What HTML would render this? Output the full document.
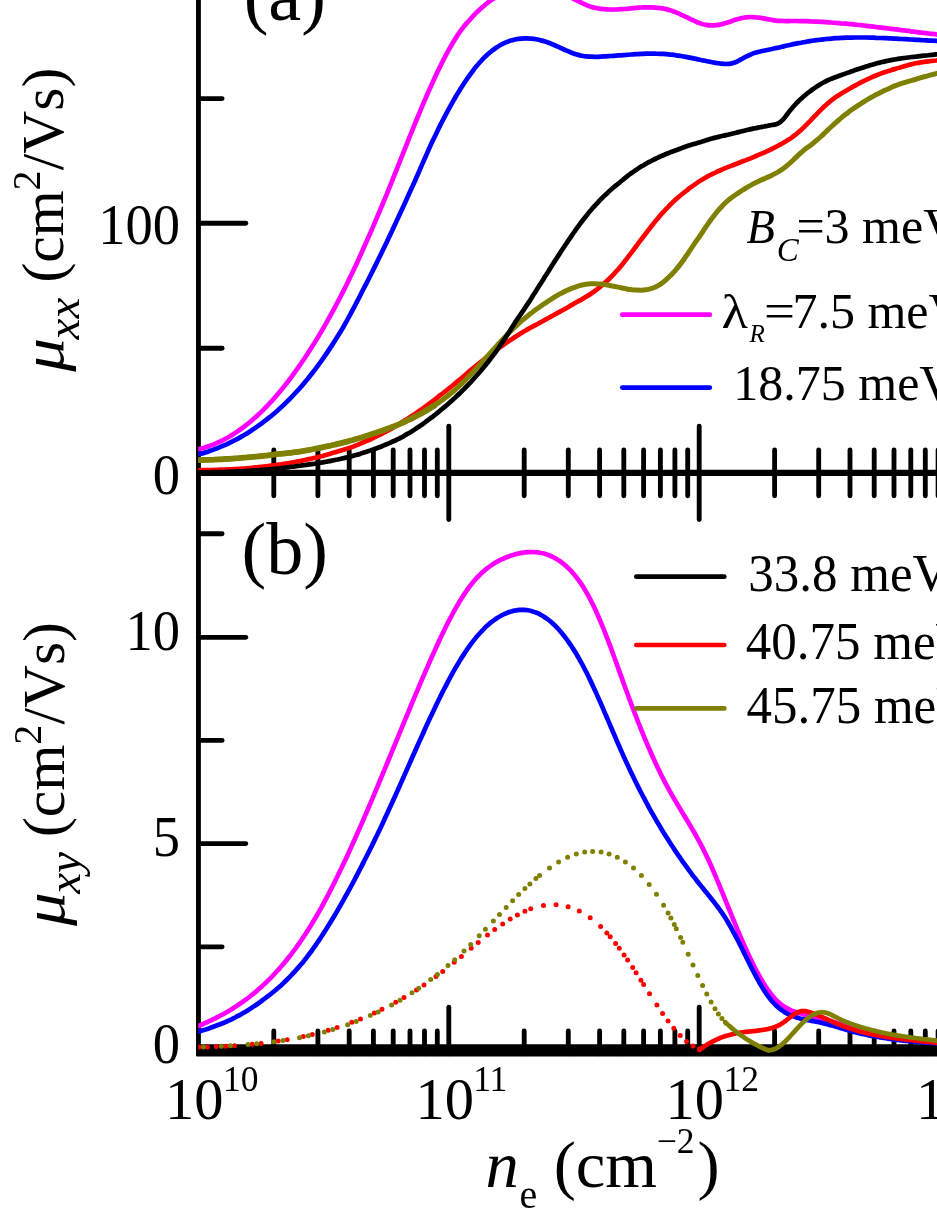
<!DOCTYPE html>
<html><head><meta charset="utf-8"><title>chart</title>
<style>html,body{margin:0;padding:0;background:#fff}body{width:937px;height:1213px;overflow:hidden}svg{display:block;will-change:transform}text{font-family:"Liberation Serif",serif;fill:#000}.i{font-style:italic}</style></head><body>
<svg width="937" height="1213" viewBox="0 0 937 1213">
<rect width="937" height="1213" fill="#fff"/>
<defs><clipPath id="cp"><rect x="198.2" y="-20" width="760" height="1100"/></clipPath></defs>
<g stroke="#000" stroke-width="4.85" stroke-linecap="round" fill="none">
<line x1="198.45" y1="-5" x2="198.45" y2="1055" stroke-linecap="butt"/>
<line x1="198.45" y1="472.85" x2="945" y2="472.85" stroke-width="6.3" stroke-linecap="butt"/>
<line x1="273.8" y1="450" x2="273.8" y2="495.8"/>
<line x1="273.8" y1="1030.9" x2="273.8" y2="1053.8"/>
<line x1="317.9" y1="450" x2="317.9" y2="495.8"/>
<line x1="317.9" y1="1030.9" x2="317.9" y2="1053.8"/>
<line x1="349.2" y1="450" x2="349.2" y2="495.8"/>
<line x1="349.2" y1="1030.9" x2="349.2" y2="1053.8"/>
<line x1="373.4" y1="450" x2="373.4" y2="495.8"/>
<line x1="373.4" y1="1030.9" x2="373.4" y2="1053.8"/>
<line x1="393.2" y1="450" x2="393.2" y2="495.8"/>
<line x1="393.2" y1="1030.9" x2="393.2" y2="1053.8"/>
<line x1="410" y1="450" x2="410" y2="495.8"/>
<line x1="410" y1="1030.9" x2="410" y2="1053.8"/>
<line x1="424.5" y1="450" x2="424.5" y2="495.8"/>
<line x1="424.5" y1="1030.9" x2="424.5" y2="1053.8"/>
<line x1="437.3" y1="450" x2="437.3" y2="495.8"/>
<line x1="437.3" y1="1030.9" x2="437.3" y2="1053.8"/>
<line x1="448.8" y1="426.2" x2="448.8" y2="519.5"/>
<line x1="448.8" y1="1007.2" x2="448.8" y2="1053.8"/>
<line x1="524.2" y1="450" x2="524.2" y2="495.8"/>
<line x1="524.2" y1="1030.9" x2="524.2" y2="1053.8"/>
<line x1="568.3" y1="450" x2="568.3" y2="495.8"/>
<line x1="568.3" y1="1030.9" x2="568.3" y2="1053.8"/>
<line x1="599.6" y1="450" x2="599.6" y2="495.8"/>
<line x1="599.6" y1="1030.9" x2="599.6" y2="1053.8"/>
<line x1="623.8" y1="450" x2="623.8" y2="495.8"/>
<line x1="623.8" y1="1030.9" x2="623.8" y2="1053.8"/>
<line x1="643.6" y1="450" x2="643.6" y2="495.8"/>
<line x1="643.6" y1="1030.9" x2="643.6" y2="1053.8"/>
<line x1="660.4" y1="450" x2="660.4" y2="495.8"/>
<line x1="660.4" y1="1030.9" x2="660.4" y2="1053.8"/>
<line x1="674.9" y1="450" x2="674.9" y2="495.8"/>
<line x1="674.9" y1="1030.9" x2="674.9" y2="1053.8"/>
<line x1="687.7" y1="450" x2="687.7" y2="495.8"/>
<line x1="687.7" y1="1030.9" x2="687.7" y2="1053.8"/>
<line x1="699.2" y1="426.2" x2="699.2" y2="519.5"/>
<line x1="699.2" y1="1007.2" x2="699.2" y2="1053.8"/>
<line x1="774.6" y1="450" x2="774.6" y2="495.8"/>
<line x1="774.6" y1="1030.9" x2="774.6" y2="1053.8"/>
<line x1="818.7" y1="450" x2="818.7" y2="495.8"/>
<line x1="818.7" y1="1030.9" x2="818.7" y2="1053.8"/>
<line x1="850" y1="450" x2="850" y2="495.8"/>
<line x1="850" y1="1030.9" x2="850" y2="1053.8"/>
<line x1="874.2" y1="450" x2="874.2" y2="495.8"/>
<line x1="874.2" y1="1030.9" x2="874.2" y2="1053.8"/>
<line x1="894" y1="450" x2="894" y2="495.8"/>
<line x1="894" y1="1030.9" x2="894" y2="1053.8"/>
<line x1="910.8" y1="450" x2="910.8" y2="495.8"/>
<line x1="910.8" y1="1030.9" x2="910.8" y2="1053.8"/>
<line x1="925.3" y1="450" x2="925.3" y2="495.8"/>
<line x1="925.3" y1="1030.9" x2="925.3" y2="1053.8"/>
<line x1="938.1" y1="450" x2="938.1" y2="495.8"/>
<line x1="938.1" y1="1030.9" x2="938.1" y2="1053.8"/>
<line x1="949.6" y1="426.2" x2="949.6" y2="519.5"/>
<line x1="949.6" y1="1007.2" x2="949.6" y2="1053.8"/>
<line x1="198.45" y1="98.6" x2="222.1" y2="98.6"/>
<line x1="198.45" y1="223.2" x2="245.8" y2="223.2"/>
<line x1="198.45" y1="348.2" x2="222.1" y2="348.2"/>
<line x1="198.45" y1="533.7" x2="222.1" y2="533.7"/>
<line x1="198.45" y1="637.3" x2="245.8" y2="637.3"/>
<line x1="198.45" y1="740.4" x2="222.1" y2="740.4"/>
<line x1="198.45" y1="843.6" x2="245.8" y2="843.6"/>
<line x1="198.45" y1="946.8" x2="222.1" y2="946.8"/>
</g>
<path d="M196 1044.3H945V1056.4H197.2Q196 1056.4 196 1055.2Z" fill="#000"/>
<g fill="none" stroke-width="4.7" stroke-linejoin="round" stroke-linecap="butt" clip-path="url(#cp)">
<path stroke="#f0f" d="M196 449.7C196.8 449.5 199.3 449 201 448.5C202.7 448.1 204.3 447.6 206 447.1C207.7 446.6 209.3 446 211 445.4C212.7 444.8 214.3 444.1 216 443.4C217.7 442.7 219.3 441.9 221 441.1C222.7 440.3 224.3 439.4 226 438.5C227.7 437.6 229.3 436.6 231 435.6C232.7 434.6 234.3 433.6 236 432.4C237.7 431.3 239.3 430.2 241 429C242.7 427.8 244.3 426.5 246 425.2C247.7 423.9 249.3 422.6 251 421.2C252.7 419.7 254.3 418.3 256 416.8C257.7 415.3 259.3 413.7 261 412.1C262.7 410.5 264.3 408.8 266 407.1C267.7 405.4 269.3 403.7 271 401.8C272.7 400 274.3 398.2 276 396.2C277.7 394.3 279.3 392.4 281 390.3C282.7 388.3 284.3 386.2 286 384.1C287.7 382 289.3 379.8 291 377.6C292.7 375.3 294.3 373 296 370.7C297.7 368.3 299.3 365.9 301 363.5C302.7 361 304.4 358.5 306.1 356C307.8 353.4 309.5 350.8 311.2 348.1C312.9 345.4 314.6 342.7 316.3 339.9C318 337.2 319.7 334.3 321.4 331.4C323.1 328.5 324.8 325.6 326.5 322.6C328.2 319.6 329.9 316.5 331.6 313.4C333.3 310.3 335 307.1 336.7 303.9C338.4 300.7 340.1 297.4 341.8 294.1C343.5 290.8 345.2 287.4 346.9 284C348.5 280.6 350.2 277.1 351.9 273.6C353.5 270.1 355.2 266.6 356.9 263C358.5 259.4 360.2 255.7 361.9 252C363.5 248.3 365.2 244.6 366.9 240.8C368.5 237.1 370.2 233.3 371.9 229.4C373.5 225.6 375.2 221.7 376.9 217.7C378.5 213.8 380.2 209.9 381.9 205.9C383.5 201.9 385.2 197.8 386.9 193.8C388.5 189.7 390.2 185.6 391.9 181.4C393.5 177.3 395.2 173.1 396.9 169C398.5 164.8 400.2 160.6 401.9 156.4C403.5 152.2 405.2 148 406.9 143.8C408.5 139.6 410.2 135.5 411.9 131.3C413.5 127.2 415.2 123 416.9 119C418.6 114.9 420.3 110.8 421.9 106.8C423.6 102.9 425.3 98.9 427 95C428.7 91.2 430.4 87.4 432.1 83.6C433.7 79.9 435.4 76.3 437.1 72.7C438.8 69.2 440.5 65.7 442.2 62.4C443.9 59 445.5 55.8 447.2 52.7C448.9 49.6 450.6 46.6 452.3 43.7C454 40.9 455.6 38.1 457.3 35.6C459 33 460.8 30.6 462.5 28.3C464.2 26 466 23.9 467.8 21.9C469.5 19.9 471.3 18.1 472.9 16.3C474.5 14.6 476 13 477.6 11.5C479.2 10 480.8 8.5 482.3 7.2C483.9 5.9 485.3 4.7 486.8 3.5C488.2 2.3 489.6 1.3 491.1 0.2C492.7 -0.8 494.4 -1.8 496 -2.7C497.6 -3.6 499.3 -4.5 501 -5.3C502.7 -6 504.3 -6.8 506 -7.5C507.7 -8.1 509.3 -8.8 511 -9.3C512.7 -9.9 514.3 -10.4 516 -10.8C517.7 -11.2 519.3 -11.6 521 -11.9C522.7 -12.2 524.3 -12.5 526 -12.7C527.7 -12.8 529.3 -13 531 -13C532.7 -13.1 534.3 -13.1 536 -13C537.7 -12.9 539.3 -12.8 541 -12.6C542.7 -12.4 544.3 -12.1 546 -11.8C547.7 -11.4 549.3 -11 551 -10.5C552.7 -10.1 554.3 -9.5 556 -8.9C557.7 -8.4 559.3 -7.7 561 -7C562.7 -6.3 564.3 -5.6 566 -4.8C567.7 -4.1 569.3 -3.3 571 -2.5C572.7 -1.6 574.3 -0.8 576 0C577.7 0.9 579.3 1.7 581 2.5C582.7 3.3 584.3 4.1 586 4.8C587.7 5.5 589.3 6.1 591 6.7C592.7 7.2 594.3 7.6 596 8C597.7 8.4 599.3 8.7 601 8.9C602.7 9.1 604.3 9.3 606 9.4C607.7 9.5 609.3 9.5 611 9.5C612.7 9.6 614.3 9.5 616 9.5C617.7 9.4 619.3 9.3 621 9.2C622.7 9.1 624.3 8.9 626 8.8C627.7 8.6 629.3 8.5 631 8.3C632.7 8.2 634.3 8 636 7.9C637.7 7.8 639.3 7.6 641 7.5C642.7 7.4 644.3 7.4 646 7.3C647.7 7.3 649.3 7.3 651 7.3C652.7 7.3 654.3 7.4 656 7.6C657.7 7.7 659.3 7.9 661 8.1C662.7 8.4 664.3 8.7 666 9.1C667.7 9.5 669.3 10 671 10.5C672.7 11.1 674.3 11.7 676 12.4C677.7 13.1 679.3 13.8 681 14.6C682.7 15.3 684.3 16.1 686 16.9C687.7 17.7 689.3 18.6 691 19.4C692.7 20.2 694.3 21 696 21.7C697.7 22.4 699.3 23.1 701 23.6C702.7 24.2 704.3 24.6 706 24.9C707.7 25.2 709.3 25.4 711 25.4C712.7 25.5 714.3 25.4 716 25.2C717.7 25.1 719.3 24.7 721 24.4C722.7 24 724.3 23.5 726 23C727.7 22.5 729.3 21.9 731 21.3C732.7 20.7 734.3 20.1 736 19.6C737.7 19.1 739.3 18.6 741 18.2C742.7 17.8 744.3 17.5 746 17.3C747.7 17.1 749.3 17 751 17C752.7 17 754.3 17.1 756 17.3C757.7 17.4 759.3 17.7 761 17.9C762.7 18.2 764.3 18.6 766 18.9C767.7 19.2 769.3 19.5 771 19.8C772.7 20.1 774.3 20.4 776 20.6C777.7 20.8 779.3 20.9 781 20.9C782.7 21 784.3 21 786 21.1C787.7 21.1 789.3 21 791 21C792.7 21 794.3 21 796 21C797.7 21 799.3 21.1 801 21.1C802.7 21.1 804.3 21.2 806 21.2C807.7 21.2 809.3 21.3 811 21.4C812.7 21.4 814.3 21.5 816 21.6C817.7 21.7 819.3 21.7 821 21.8C822.7 21.9 824.3 22 826 22.1C827.7 22.2 829.3 22.4 831 22.5C832.7 22.6 834.3 22.7 836 22.9C837.7 23 839.3 23.1 841 23.3C842.7 23.4 844.3 23.6 846 23.7C847.7 23.9 849.3 24 851 24.2C852.7 24.4 854.3 24.5 856 24.7C857.7 24.9 859.3 25.1 861 25.2C862.7 25.4 864.3 25.6 866 25.8C867.7 26 869.3 26.2 871 26.4C872.7 26.6 874.3 26.8 876 27C877.7 27.2 879.3 27.4 881 27.6C882.7 27.8 884.3 28 886 28.2C887.7 28.4 889.3 28.6 891 28.8C892.7 29 894.3 29.2 896 29.4C897.7 29.7 899.3 29.9 901 30.1C902.7 30.3 904.3 30.5 906 30.7C907.7 30.9 909.3 31.1 911 31.4C912.7 31.6 914.3 31.8 916 32C917.7 32.2 919.3 32.4 921 32.6C922.7 32.8 924.3 33 926 33.2C927.7 33.4 929.3 33.6 931 33.8C932.7 34 934.5 34.2 936 34.4C937.5 34.6 939.3 34.8 940 34.9"/>
<path stroke="#00f" d="M196 455.1C196.8 454.9 199.3 454.2 201 453.7C202.7 453.3 204.3 452.8 206 452.2C207.7 451.7 209.3 451.1 211 450.6C212.7 450 214.3 449.4 216 448.7C217.7 448.1 219.3 447.4 221 446.7C222.7 446 224.3 445.3 226 444.6C227.7 443.8 229.3 443 231 442.2C232.7 441.4 234.3 440.5 236 439.7C237.7 438.8 239.3 437.9 241 436.9C242.7 436 244.3 435 246 434C247.7 432.9 249.3 431.9 251 430.8C252.7 429.7 254.3 428.6 256 427.4C257.7 426.2 259.3 425 261 423.8C262.7 422.5 264.5 421.2 266.2 419.9C267.9 418.6 269.6 417.2 271.4 415.8C273.1 414.4 274.8 412.9 276.5 411.4C278.2 409.9 279.9 408.4 281.7 406.8C283.4 405.2 285.1 403.5 286.8 401.8C288.5 400.2 290.3 398.4 292 396.6C293.7 394.9 295.4 393 297.1 391.2C298.9 389.3 300.6 387.3 302.3 385.4C304 383.4 305.7 381.3 307.4 379.3C309.1 377.2 310.8 375 312.5 372.8C314.2 370.7 315.9 368.4 317.6 366.1C319.3 363.8 321 361.5 322.7 359C324.4 356.6 326.1 354.2 327.8 351.6C329.5 349.1 331.2 346.5 332.9 343.9C334.6 341.3 336.3 338.6 338 335.8C339.7 333.1 341.4 330.3 343.1 327.5C344.7 324.6 346.3 321.7 347.9 318.8C349.5 315.9 351.1 312.9 352.7 309.9C354.3 306.8 355.9 303.8 357.5 300.7C359.1 297.6 360.7 294.4 362.3 291.2C363.9 288.1 365.6 284.8 367.3 281.6C368.9 278.3 370.6 275 372.3 271.7C373.9 268.4 375.6 265 377.3 261.6C378.9 258.2 380.6 254.8 382.3 251.3C383.9 247.9 385.6 244.4 387.3 240.9C388.9 237.4 390.6 233.9 392.3 230.3C393.9 226.7 395.6 223.2 397.3 219.6C398.9 216 400.6 212.3 402.3 208.7C403.9 205.1 405.6 201.4 407.3 197.7C408.9 194.1 410.6 190.4 412.3 186.8C413.9 183.1 415.6 179.4 417.2 175.8C418.8 172.1 420.4 168.5 421.9 164.9C423.5 161.3 425.1 157.7 426.7 154.1C428.2 150.6 429.8 147.1 431.4 143.6C433 140.1 434.7 136.6 436.4 133.2C438 129.9 439.6 126.5 441.3 123.2C443 119.9 444.6 116.7 446.3 113.6C447.9 110.4 449.7 107.3 451.4 104.3C453.1 101.3 454.7 98.4 456.4 95.5C458.1 92.7 459.8 89.9 461.5 87.2C463.2 84.6 464.9 82 466.6 79.5C468.3 77.1 470 74.7 471.7 72.5C473.3 70.3 474.9 68.1 476.6 66.1C478.2 64.1 479.9 62.2 481.5 60.5C483.1 58.7 484.8 57.1 486.4 55.5C488 54 489.6 52.6 491.3 51.3C492.9 50 494.5 48.8 496.1 47.7C497.7 46.6 499.4 45.6 501 44.7C502.6 43.8 504.3 43.1 506 42.4C507.7 41.7 509.3 41.1 511 40.6C512.7 40.1 514.3 39.7 516 39.3C517.7 39 519.3 38.8 521 38.6C522.7 38.4 524.3 38.4 526 38.4C527.7 38.4 529.3 38.5 531 38.6C532.7 38.8 534.3 39 536 39.3C537.7 39.6 539.3 39.9 541 40.4C542.7 40.8 544.3 41.3 546 41.8C547.7 42.4 549.3 43 551 43.7C552.7 44.3 554.3 45.1 556 45.8C557.7 46.6 559.3 47.3 561 48.1C562.7 48.9 564.3 49.6 566 50.4C567.7 51.1 569.3 51.8 571 52.5C572.7 53.1 574.3 53.8 576 54.3C577.7 54.8 579.3 55.2 581 55.6C582.7 55.9 584.3 56.2 586 56.4C587.7 56.6 589.3 56.7 591 56.7C592.7 56.8 594.3 56.8 596 56.8C597.7 56.8 599.3 56.7 601 56.6C602.7 56.5 604.3 56.4 606 56.3C607.7 56.2 609.3 56.1 611 56C612.7 55.9 614.3 55.8 616 55.6C617.7 55.5 619.3 55.4 621 55.3C622.7 55.1 624.3 55 626 54.9C627.7 54.7 629.3 54.6 631 54.5C632.7 54.4 634.3 54.3 636 54.2C637.7 54.1 639.3 54 641 53.9C642.7 53.8 644.3 53.8 646 53.7C647.7 53.7 649.3 53.6 651 53.6C652.7 53.6 654.3 53.6 656 53.7C657.7 53.7 659.3 53.7 661 53.8C662.7 53.9 664.3 54 666 54.1C667.7 54.3 669.3 54.4 671 54.6C672.7 54.8 674.3 55 676 55.3C677.7 55.5 679.3 55.8 681 56C682.7 56.3 684.3 56.6 686 56.9C687.7 57.3 689.3 57.6 691 57.9C692.7 58.3 694.3 58.6 696 58.9C697.7 59.3 699.3 59.6 701 60C702.7 60.3 704.3 60.7 706 61C707.7 61.3 709.3 61.7 711 62C712.7 62.3 714.3 62.6 716 62.9C717.7 63.1 719.3 63.4 721 63.6C722.7 63.8 724.3 64 726 64C727.7 64 729.3 63.9 731 63.6C732.7 63.3 734.3 62.7 736 62C737.7 61.3 739.3 60.3 741 59.4C742.7 58.5 744.3 57.4 746 56.6C747.7 55.7 749.3 55 751 54.3C752.7 53.6 754.3 53.1 756 52.6C757.7 52.1 759.3 51.7 761 51.3C762.7 50.9 764.3 50.6 766 50.2C767.7 49.9 769.3 49.6 771 49.2C772.7 48.9 774.3 48.5 776 48.1C777.7 47.8 779.3 47.4 781 47C782.7 46.6 784.3 46.2 786 45.8C787.7 45.4 789.3 45.1 791 44.7C792.7 44.3 794.3 44 796 43.6C797.7 43.3 799.3 43 801 42.7C802.7 42.3 804.3 42 806 41.8C807.7 41.5 809.3 41.2 811 40.9C812.7 40.7 814.3 40.4 816 40.2C817.7 40 819.3 39.7 821 39.6C822.7 39.4 824.3 39.2 826 39C827.7 38.8 829.3 38.7 831 38.6C832.7 38.4 834.3 38.3 836 38.2C837.7 38.1 839.3 38 841 37.9C842.7 37.8 844.3 37.8 846 37.7C847.7 37.6 849.3 37.6 851 37.6C852.7 37.5 854.3 37.5 856 37.5C857.7 37.5 859.3 37.5 861 37.5C862.7 37.5 864.3 37.5 866 37.5C867.7 37.6 869.3 37.6 871 37.6C872.7 37.7 874.3 37.7 876 37.8C877.7 37.8 879.3 37.9 881 38C882.7 38 884.3 38.1 886 38.2C887.7 38.3 889.3 38.3 891 38.4C892.7 38.5 894.3 38.6 896 38.7C897.7 38.8 899.3 38.9 901 39C902.7 39 904.3 39.1 906 39.2C907.7 39.3 909.3 39.4 911 39.5C912.7 39.6 914.3 39.7 916 39.8C917.7 39.9 919.3 40 921 40.1C922.7 40.2 924.3 40.3 926 40.4C927.7 40.5 929.3 40.6 931 40.6C932.7 40.7 934.5 40.8 936 40.9C937.5 40.9 939.3 41 940 41"/>
<path stroke="#f00" d="M196 470.3C196.8 470.3 199.3 470.3 201 470.2C202.7 470.2 204.3 470.2 206 470.2C207.7 470.1 209.3 470.1 211 470C212.7 470 214.3 470 216 469.9C217.7 469.9 219.3 469.8 221 469.7C222.7 469.7 224.3 469.6 226 469.5C227.7 469.4 229.3 469.4 231 469.3C232.7 469.2 234.3 469.1 236 469C237.7 468.9 239.3 468.8 241 468.7C242.7 468.5 244.3 468.4 246 468.3C247.7 468.2 249.3 468 251 467.9C252.7 467.7 254.3 467.6 256 467.4C257.7 467.2 259.3 467.1 261 466.9C262.7 466.7 264.3 466.5 266 466.3C267.7 466.1 269.3 465.9 271 465.7C272.7 465.5 274.3 465.2 276 465C277.7 464.8 279.3 464.5 281 464.3C282.7 464.1 284.3 463.8 286 463.5C287.7 463.3 289.3 463 291 462.7C292.7 462.4 294.3 462.1 296 461.8C297.7 461.5 299.3 461.2 301 460.9C302.7 460.5 304.3 460.2 306 459.8C307.7 459.5 309.3 459.1 311 458.7C312.7 458.4 314.3 458 316 457.6C317.7 457.2 319.3 456.7 321 456.3C322.7 455.9 324.3 455.4 326 455C327.7 454.5 329.3 454 331 453.5C332.7 453.1 334.3 452.5 336 452C337.7 451.5 339.3 451.1 341 450.6C342.7 450.1 344.3 449.6 346 449C347.7 448.5 349.3 448 351 447.4C352.7 446.8 354.3 446.1 356 445.4C357.7 444.8 359.3 444.1 361 443.4C362.7 442.7 364.3 442 366 441.2C367.7 440.5 369.3 439.8 371 439C372.7 438.2 374.3 437.5 376 436.7C377.7 435.9 379.3 435.1 381 434.2C382.7 433.4 384.3 432.5 386 431.6C387.7 430.7 389.3 429.7 391 428.8C392.7 427.9 394.3 426.9 396 425.9C397.7 424.9 399.3 423.9 401 422.9C402.7 421.9 404.3 420.9 406 419.8C407.7 418.7 409.3 417.7 411 416.6C412.7 415.5 414.3 414.4 416 413.2C417.7 412.1 419.3 410.9 421 409.7C422.7 408.6 424.3 407.3 426 406.1C427.7 404.9 429.3 403.7 431 402.4C432.7 401.2 434.3 399.9 436 398.6C437.7 397.3 439.3 396 441 394.7C442.7 393.4 444.3 392.1 446 390.8C447.7 389.5 449.3 388.1 451 386.8C452.7 385.4 454.3 384 456 382.6C457.7 381.3 459.3 379.9 461 378.5C462.7 377 464.3 375.6 466 374.2C467.7 372.8 469.3 371.3 471 369.9C472.7 368.5 474.3 367.1 476 365.7C477.7 364.4 479.3 363.1 481 361.7C482.7 360.4 484.3 359.1 486 357.8C487.7 356.5 489.3 355.2 491 353.9C492.7 352.6 494.3 351.4 496 350.1C497.7 348.9 499.3 347.7 501 346.5C502.7 345.3 504.3 344.2 506 343C507.7 341.9 509.3 340.7 511 339.6C512.7 338.5 514.3 337.4 516 336.4C517.7 335.3 519.3 334.3 521 333.3C522.7 332.3 524.3 331.3 526 330.3C527.7 329.4 529.3 328.4 531 327.5C532.7 326.6 534.3 325.7 536 324.8C537.7 323.9 539.3 323 541 322.1C542.7 321.2 544.3 320.3 546 319.4C547.7 318.5 549.3 317.5 551 316.6C552.7 315.7 554.3 314.8 556 313.9C557.7 312.9 559.3 312 561 311.1C562.7 310.2 564.3 309.2 566 308.3C567.7 307.4 569.3 306.4 571 305.4C572.7 304.5 574.3 303.4 576 302.5C577.7 301.6 579.3 300.7 581 299.8C582.7 298.8 584.3 297.9 586 296.8C587.7 295.8 589.3 294.8 591 293.7C592.7 292.5 594.3 291.4 596 290.1C597.7 288.8 599.3 287.5 601 286.1C602.7 284.8 604.3 283.3 606 281.8C607.7 280.3 609.3 278.7 611 277C612.7 275.3 614.3 273.5 616 271.7C617.7 269.9 619.3 268 621 266C622.7 264 624.3 261.8 626 259.7C627.7 257.5 629.3 255.3 631 253.1C632.7 250.9 634.3 248.7 636 246.5C637.7 244.3 639.3 242 641 239.8C642.7 237.6 644.3 235.4 646 233.2C647.7 231 649.3 228.8 651 226.7C652.7 224.6 654.3 222.5 656 220.5C657.7 218.5 659.3 216.5 661 214.6C662.7 212.7 664.3 210.9 666 209.1C667.7 207.4 669.3 205.7 671 204C672.7 202.4 674.3 200.8 676 199.3C677.7 197.8 679.3 196.3 681 195C682.7 193.6 684.3 192.3 686 191C687.7 189.7 689.3 188.4 691 187.2C692.7 185.9 694.3 184.7 696 183.6C697.7 182.4 699.3 181.3 701 180.3C702.7 179.3 704.3 178.3 706 177.4C707.7 176.4 709.3 175.5 711 174.7C712.7 173.8 714.3 173 716 172.3C717.7 171.5 719.3 170.7 721 170C722.7 169.3 724.3 168.6 726 167.9C727.7 167.2 729.3 166.6 731 165.9C732.7 165.2 734.3 164.6 736 164C737.7 163.3 739.3 162.7 741 162C742.7 161.4 744.3 160.7 746 160.1C747.7 159.4 749.3 158.8 751 158.1C752.7 157.4 754.3 156.7 756 156C757.7 155.3 759.3 154.6 761 153.9C762.7 153.2 764.3 152.5 766 151.8C767.7 151 769.3 150.3 771 149.4C772.7 148.6 774.3 147.7 776 146.9C777.7 146 779.3 145 781 144.1C782.7 143.2 784.3 142.3 786 141.3C787.7 140.3 789.3 139.2 791 138.1C792.7 136.9 794.3 135.7 796 134.3C797.7 133 799.3 131.6 801 130.1C802.7 128.5 804.3 126.9 806 125.2C807.7 123.6 809.3 121.8 811 120.1C812.7 118.4 814.3 116.5 816 114.8C817.7 113 819.3 111.3 821 109.6C822.7 108 824.3 106.4 826 104.9C827.7 103.4 829.3 102 831 100.6C832.7 99.3 834.3 98.1 836 96.9C837.7 95.8 839.3 94.7 841 93.7C842.7 92.7 844.3 91.8 846 90.8C847.7 89.8 849.3 88.8 851 87.9C852.7 86.9 854.3 86 856 85.1C857.7 84.2 859.3 83.3 861 82.4C862.7 81.6 864.3 80.8 866 80C867.7 79.2 869.3 78.4 871 77.7C872.7 76.9 874.3 76.2 876 75.5C877.7 74.8 879.3 74.1 881 73.5C882.7 72.9 884.3 72.3 886 71.8C887.7 71.2 889.3 70.7 891 70.2C892.7 69.6 894.3 69.2 896 68.7C897.7 68.2 899.3 67.6 901 67.2C902.7 66.7 904.3 66.2 906 65.7C907.7 65.3 909.3 64.8 911 64.4C912.7 64 914.3 63.6 916 63.3C917.7 63 919.3 62.7 921 62.4C922.7 62.1 924.3 61.8 926 61.6C927.7 61.4 929.3 61.2 931 61C932.7 60.8 934.5 60.6 936 60.5C937.5 60.3 939.3 60.3 940 60.2"/>
<path stroke="#808000" stroke-width="5" d="M196 460.1C196.8 460.1 199.3 460 201 460C202.7 459.9 204.3 459.9 206 459.8C207.7 459.8 209.3 459.7 211 459.7C212.7 459.6 214.3 459.5 216 459.5C217.7 459.4 219.3 459.3 221 459.2C222.7 459.2 224.3 459.1 226 459C227.7 458.9 229.3 458.8 231 458.7C232.7 458.6 234.3 458.5 236 458.3C237.7 458.2 239.3 458.1 241 458C242.7 457.8 244.3 457.7 246 457.6C247.7 457.4 249.3 457.3 251 457.1C252.7 456.9 254.3 456.8 256 456.6C257.7 456.4 259.3 456.3 261 456.1C262.7 455.9 264.3 455.7 266 455.5C267.7 455.3 269.3 455.1 271 454.9C272.7 454.7 274.3 454.5 276 454.3C277.7 454.1 279.3 454 281 453.8C282.7 453.6 284.3 453.5 286 453.3C287.7 453.1 289.3 452.9 291 452.7C292.7 452.5 294.3 452.3 296 452.1C297.7 451.9 299.3 451.6 301 451.4C302.7 451.1 304.3 450.8 306 450.5C307.7 450.2 309.3 449.9 311 449.6C312.7 449.3 314.3 449 316 448.7C317.7 448.3 319.3 448 321 447.7C322.7 447.3 324.3 447 326 446.6C327.7 446.2 329.3 445.9 331 445.5C332.7 445.1 334.3 444.7 336 444.3C337.7 443.9 339.3 443.5 341 443.1C342.7 442.7 344.3 442.3 346 441.9C347.7 441.4 349.3 441 351 440.5C352.7 440.1 354.3 439.6 356 439.1C357.7 438.6 359.3 438.1 361 437.6C362.7 437.1 364.3 436.6 366 436C367.7 435.5 369.3 435 371 434.4C372.7 433.9 374.3 433.3 376 432.8C377.7 432.2 379.3 431.6 381 431C382.7 430.4 384.3 429.8 386 429.2C387.7 428.6 389.3 428 391 427.4C392.7 426.8 394.3 426.1 396 425.5C397.7 424.8 399.3 424.2 401 423.5C402.7 422.7 404.3 422 406 421.2C407.7 420.4 409.3 419.6 411 418.8C412.7 418 414.3 417.1 416 416.3C417.7 415.4 419.3 414.5 421 413.6C422.7 412.7 424.3 411.7 426 410.8C427.7 409.8 429.3 408.8 431 407.7C432.7 406.7 434.3 405.6 436 404.5C437.7 403.3 439.3 402.2 441 401C442.7 399.8 444.3 398.6 446 397.3C447.7 396 449.3 394.7 451 393.3C452.7 392 454.3 390.5 456 389C457.7 387.5 459.3 386 461 384.4C462.7 382.8 464.3 381.1 466 379.4C467.7 377.7 469.3 375.9 471 374.2C472.7 372.4 474.3 370.6 476 368.8C477.7 367 479.3 365.2 481 363.3C482.7 361.5 484.3 359.6 486 357.8C487.7 355.9 489.3 354.1 491 352.2C492.7 350.3 494.3 348.5 496 346.7C497.7 344.8 499.3 343 501 341.2C502.7 339.4 504.3 337.6 506 335.9C507.7 334.1 509.3 332.5 511 330.8C512.7 329.2 514.3 327.6 516 326.1C517.7 324.5 519.3 323 521 321.5C522.7 320 524.3 318.6 526 317.2C527.7 315.9 529.3 314.6 531 313.3C532.7 312 534.3 310.7 536 309.5C537.7 308.3 539.3 307.2 541 306C542.7 304.9 544.3 303.7 546 302.6C547.7 301.4 549.3 300.3 551 299.3C552.7 298.2 554.3 297.2 556 296.2C557.7 295.2 559.3 294.3 561 293.4C562.7 292.5 564.3 291.6 566 290.9C567.7 290.1 569.3 289.3 571 288.6C572.7 288 574.3 287.3 576 286.8C577.7 286.2 579.3 285.7 581 285.3C582.7 284.9 584.3 284.6 586 284.3C587.7 284 589.3 283.9 591 283.8C592.7 283.7 594.3 283.6 596 283.7C597.7 283.7 599.3 283.9 601 284C602.7 284.2 604.3 284.5 606 284.7C607.7 285 609.3 285.3 611 285.7C612.7 286 614.3 286.4 616 286.7C617.7 287.1 619.3 287.5 621 287.8C622.7 288.2 624.3 288.5 626 288.8C627.7 289.1 629.3 289.4 631 289.6C632.7 289.8 634.3 290 636 290.1C637.7 290.2 639.3 290.2 641 290.2C642.7 290.1 644.3 290 646 289.7C647.7 289.5 649.3 289.1 651 288.6C652.7 288.1 654.3 287.5 656 286.7C657.7 285.9 659.3 284.9 661 283.8C662.7 282.7 664.3 281.3 666 279.8C667.7 278.4 669.3 276.8 671 275.1C672.7 273.5 674.3 271.7 676 269.7C677.7 267.7 679.3 265.6 681 263.4C682.7 261.1 684.3 258.7 686 256.3C687.7 253.9 689.3 251.3 691 248.9C692.7 246.4 694.3 243.9 696 241.4C697.7 239 699.3 236.6 701 234.2C702.7 231.7 704.3 229.1 706 226.7C707.7 224.2 709.3 221.8 711 219.6C712.7 217.3 714.3 215.1 716 213.1C717.7 211 719.3 209.1 721 207.3C722.7 205.5 724.3 203.7 726 202.2C727.7 200.6 729.3 199.3 731 198C732.7 196.8 734.3 195.6 736 194.5C737.7 193.3 739.3 192.3 741 191.2C742.7 190.1 744.3 189 746 188C747.7 187 749.3 186 751 185.1C752.7 184.2 754.3 183.3 756 182.5C757.7 181.6 759.3 180.9 761 180.1C762.7 179.4 764.3 178.7 766 177.9C767.7 177.2 769.3 176.5 771 175.7C772.7 174.8 774.3 174 776 173.1C777.7 172.2 779.3 171.2 781 170.1C782.7 169 784.3 167.9 786 166.5C787.7 165.2 789.3 163.7 791 162.2C792.7 160.7 794.3 159 796 157.4C797.7 155.8 799.3 154.2 801 152.7C802.7 151.3 804.3 149.9 806 148.6C807.7 147.3 809.3 146.2 811 144.9C812.7 143.6 814.3 142.2 816 140.8C817.7 139.4 819.3 138 821 136.5C822.7 135 824.3 133.3 826 131.7C827.7 130.1 829.3 128.5 831 127C832.7 125.4 834.3 123.9 836 122.4C837.7 121 839.3 119.5 841 118.1C842.7 116.7 844.3 115.4 846 114.1C847.7 112.8 849.3 111.5 851 110.3C852.7 109.1 854.3 107.9 856 106.8C857.7 105.7 859.3 104.6 861 103.6C862.7 102.5 864.3 101.4 866 100.4C867.7 99.4 869.3 98.5 871 97.5C872.7 96.6 874.3 95.7 876 94.8C877.7 94 879.3 93.2 881 92.3C882.7 91.5 884.3 90.6 886 89.8C887.7 89.1 889.3 88.3 891 87.6C892.7 86.8 894.3 86.1 896 85.4C897.7 84.8 899.3 84.2 901 83.7C902.7 83.1 904.3 82.6 906 82.1C907.7 81.6 909.3 81.1 911 80.6C912.7 80.1 914.3 79.6 916 79.2C917.7 78.7 919.3 78.2 921 77.7C922.7 77.2 924.3 76.7 926 76.3C927.7 75.8 929.3 75.4 931 74.9C932.7 74.5 934.5 74 936 73.6C937.5 73.3 939.3 72.9 940 72.8"/>
<path stroke="#808000" stroke-width="5.8" d="M196 460.1C197 460.1 200 460 202 460C204 459.9 206 459.8 208 459.8C210 459.7 212 459.6 214 459.6C216 459.5 218 459.4 220 459.3C222 459.2 224 459.1 226 459C228 458.9 230 458.7 232 458.6C234 458.5 236 458.3 238 458.2C240 458 242 457.9 244 457.7C246 457.5 248 457.4 250 457.2C252 457 254 456.8 256 456.6C258 456.4 260 456.2 262 456C264 455.8 266 455.5 268 455.3C270 455 272 454.8 274 454.5C276 454.3 278 454.1 280 453.9C282 453.7 284 453.5 286 453.3C288 453.1 290 452.8 292 452.6C294 452.3 296 452.1 298 451.8C300 451.5 302 451.2 304 450.9C306 450.5 308 450.2 310 449.8C312 449.4 314 449.1 316 448.7C318 448.3 320 447.9 322 447.4C324 447 326 446.6 328 446.2C330 445.7 332 445.3 334 444.8C336 444.3 338 443.9 340 443.4C342 442.9 344 442.4 346 441.9C348 441.4 350 440.8 352 440.3C354 439.7 356 439.1 358 438.5C360 437.9 362 437.3 364 436.7C366 436.1 368 435.4 370 434.8C372 434.1 374 433.4 376 432.8C378 432.1 380 431.4 382 430.7C384 430 386 429.3 388 428.5C390 427.8 392 427 394 426.3C396 425.5 398 424.8 400 423.9C402 423.1 404 422.1 406 421.2C408 420.2 410 419.3 412 418.3C414 417.3 416 416.3 418 415.2C420 414.2 422 413.1 424 411.9C426 410.8 428 409.6 430 408.3C432 407.1 435 405.1 436 404.5"/>
<path stroke="#000" d="M196 472.3C196.7 472.3 198.7 472.3 200 472.3C201.3 472.3 202.7 472.3 204 472.3C205.3 472.3 206.7 472.3 208 472.3C209.3 472.3 210.7 472.2 212 472.2C213.3 472.2 214.7 472.2 216 472.1C217.3 472.1 218.7 472.1 220 472.1C221.3 472 222.7 472 224 472C225.3 471.9 226.7 471.9 228 471.8C229.3 471.8 230.7 471.8 232 471.7C233.3 471.7 234.7 471.6 236 471.5C237.3 471.5 238.7 471.4 240 471.4C241.3 471.3 242.7 471.2 244 471.2C245.3 471.1 246.7 471 248 470.9C249.3 470.9 250.7 470.8 252 470.7C253.3 470.6 254.7 470.5 256 470.4C257.3 470.3 258.7 470.2 260 470.1C261.3 470 262.7 469.9 264 469.8C265.3 469.7 266.7 469.6 268 469.5C269.3 469.3 270.7 469.2 272 469.1C273.3 469 274.7 468.8 276 468.7C277.3 468.6 278.7 468.4 280 468.3C281.3 468.1 282.7 468 284 467.8C285.3 467.7 286.7 467.5 288 467.3C289.3 467.2 290.7 467 292 466.8C293.3 466.6 294.7 466.5 296 466.3C297.3 466.1 298.7 465.9 300 465.7C301.3 465.5 302.7 465.4 304 465.2C305.3 465 306.7 464.8 308 464.6C309.3 464.5 310.7 464.3 312 464.1C313.3 463.9 314.7 463.7 316 463.5C317.3 463.2 318.7 463 320 462.8C321.3 462.6 322.7 462.4 324 462.1C325.3 461.9 326.7 461.6 328 461.4C329.3 461.2 330.7 460.9 332 460.6C333.3 460.4 334.7 460.1 336 459.8C337.3 459.6 338.7 459.3 340 459C341.3 458.7 342.7 458.4 344 458.1C345.3 457.8 346.7 457.5 348 457.2C349.3 456.9 350.7 456.5 352 456.2C353.3 455.8 354.7 455.4 356 455C357.3 454.7 358.7 454.3 360 453.9C361.3 453.4 362.7 453 364 452.6C365.3 452.2 366.7 451.8 368 451.3C369.3 450.9 370.7 450.4 372 449.9C373.3 449.5 374.7 449 376 448.5C377.3 448 378.7 447.5 380 447C381.3 446.5 382.7 445.9 384 445.4C385.3 444.8 386.7 444.3 388 443.7C389.3 443.1 390.7 442.6 392 441.9C393.3 441.3 394.7 440.7 396 440.1C397.3 439.4 398.7 438.8 400 438.1C401.3 437.4 402.7 436.7 404 435.9C405.3 435.2 406.7 434.4 408 433.6C409.3 432.8 410.7 432 412 431.2C413.3 430.4 414.7 429.5 416 428.6C417.3 427.8 418.7 426.9 420 426C421.3 425 422.7 424.1 424 423.2C425.3 422.2 426.7 421.2 428 420.2C429.3 419.2 430.7 418.2 432 417.2C433.3 416.1 434.7 415.1 436 414C437.3 412.9 438.7 411.8 440 410.7C441.3 409.6 442.7 408.5 444 407.4C445.3 406.3 446.7 405.2 448 404C449.3 402.9 450.7 401.7 452 400.5C453.3 399.3 454.7 398.1 456 396.8C457.3 395.6 458.7 394.3 460 393C461.3 391.7 462.7 390.4 464 389.1C465.3 387.7 466.7 386.3 468 385C469.3 383.6 470.7 382.2 472 380.7C473.3 379.3 474.7 377.8 476 376.3C477.3 374.8 478.7 373.2 480 371.7C481.3 370.1 482.7 368.5 484 366.9C485.3 365.3 486.7 363.6 488 362C489.3 360.3 490.7 358.6 492 356.9C493.3 355.2 494.7 353.4 496 351.6C497.3 349.7 498.7 347.8 500 345.8C501.3 343.9 502.7 341.9 504 339.9C505.3 337.9 506.7 335.9 508 333.8C509.3 331.7 510.7 329.6 512 327.5C513.3 325.4 514.7 323.1 516 321C517.3 319 518.7 317.2 520 315.3C521.3 313.3 522.7 311.4 524 309.4C525.3 307.4 526.7 305.4 528 303.4C529.3 301.4 530.7 299.3 532 297.2C533.3 295.1 534.7 293 536 290.9C537.3 288.8 538.7 286.7 540 284.6C541.3 282.5 542.7 280.4 544 278.2C545.3 276.1 546.7 274 548 271.9C549.3 269.8 550.7 267.6 552 265.5C553.3 263.4 554.7 261.3 556 259.3C557.3 257.2 558.7 255.1 560 253.1C561.3 251 562.7 249 564 247C565.3 245 566.7 243 568 241C569.3 239 570.7 237.1 572 235.1C573.3 233.2 574.7 231.3 576 229.4C577.3 227.6 578.7 225.7 580 223.9C581.3 222.1 582.7 220.4 584 218.7C585.3 217 586.7 215.3 588 213.7C589.3 212 590.7 210.5 592 208.9C593.3 207.4 594.7 205.9 596 204.4C597.3 203 598.7 201.6 600 200.2C601.3 198.8 602.7 197.5 604 196.2C605.3 194.9 606.7 193.6 608 192.4C609.3 191.1 610.7 189.9 612 188.8C613.3 187.6 614.7 186.5 616 185.4C617.3 184.3 618.7 183.3 620 182.2C621.3 181.1 622.7 180 624 178.9C625.3 177.8 626.7 176.7 628 175.7C629.3 174.7 630.7 173.7 632 172.7C633.3 171.8 634.7 170.9 636 170C637.3 169.1 638.7 168.2 640 167.3C641.3 166.5 642.7 165.7 644 164.9C645.3 164.1 646.7 163.4 648 162.6C649.3 161.9 650.7 161.2 652 160.5C653.3 159.8 654.7 159.1 656 158.5C657.3 157.9 658.7 157.3 660 156.7C661.3 156.1 662.7 155.5 664 155C665.3 154.4 666.7 153.8 668 153.3C669.3 152.8 670.7 152.3 672 151.7C673.3 151.2 674.7 150.7 676 150.2C677.3 149.7 678.7 149.2 680 148.7C681.3 148.3 682.7 147.8 684 147.3C685.3 146.8 686.7 146.3 688 145.8C689.3 145.4 690.7 145 692 144.6C693.3 144.2 694.7 143.8 696 143.4C697.3 143 698.7 142.6 700 142.2C701.3 141.7 702.7 141.3 704 140.9C705.3 140.5 706.7 140.1 708 139.7C709.3 139.3 710.7 138.9 712 138.5C713.3 138.1 714.7 137.8 716 137.5C717.3 137.2 718.7 136.9 720 136.5C721.3 136.2 722.7 135.9 724 135.6C725.3 135.3 726.7 135 728 134.7C729.3 134.4 730.7 134 732 133.7C733.3 133.4 734.7 133 736 132.7C737.3 132.3 738.7 132 740 131.7C741.3 131.4 742.7 131 744 130.7C745.3 130.4 746.7 130.1 748 129.8C749.3 129.5 750.7 129.2 752 128.9C753.3 128.6 754.7 128.3 756 128.1C757.3 127.8 758.7 127.5 760 127.2C761.3 127 762.7 126.7 764 126.5C765.3 126.2 766.7 126 768 125.7C769.3 125.5 770.7 125.3 772 125C773.3 124.8 774.7 124.7 776 124.2C777.3 123.8 778.7 123.3 780 122.3C781.3 121.4 782.7 120 784 118.5C785.3 117 786.7 114.9 788 113.2C789.3 111.4 790.7 109.7 792 108.2C793.3 106.6 794.7 105.2 796 103.7C797.3 102.3 798.7 101 800 99.7C801.3 98.5 802.7 97.3 804 96.1C805.3 95 806.7 93.9 808 92.8C809.3 91.8 810.7 90.8 812 89.8C813.3 88.9 814.7 88 816 87.1C817.3 86.2 818.7 85.4 820 84.6C821.3 83.8 822.7 83 824 82.3C825.3 81.5 826.7 80.8 828 80.1C829.3 79.5 830.7 79 832 78.5C833.3 78 834.7 77.5 836 77C837.3 76.5 838.7 76 840 75.5C841.3 75 842.7 74.6 844 74.1C845.3 73.6 846.7 73.1 848 72.6C849.3 72.1 850.7 71.7 852 71.2C853.3 70.7 854.7 70.3 856 69.8C857.3 69.4 858.7 69 860 68.5C861.3 68.1 862.7 67.7 864 67.2C865.3 66.8 866.7 66.4 868 66C869.3 65.5 870.7 65.1 872 64.8C873.3 64.4 874.7 64 876 63.6C877.3 63.3 878.7 62.9 880 62.6C881.3 62.3 882.7 61.9 884 61.6C885.3 61.3 886.7 61 888 60.7C889.3 60.5 890.7 60.2 892 59.9C893.3 59.7 894.7 59.5 896 59.2C897.3 59 898.7 58.8 900 58.6C901.3 58.4 902.7 58.2 904 58C905.3 57.8 906.7 57.7 908 57.5C909.3 57.3 910.7 57.2 912 57C913.3 56.9 914.7 56.7 916 56.6C917.3 56.4 918.7 56.3 920 56.1C921.3 56 922.7 55.8 924 55.7C925.3 55.6 926.7 55.4 928 55.3C929.3 55.1 930.7 55 932 54.9C933.3 54.7 934.7 54.6 936 54.4C937.3 54.3 939.3 54.1 940 54"/>
<path stroke="#f0f" d="M196 1027C196.7 1026.7 198.7 1025.9 200 1025.3C201.3 1024.7 202.7 1024.2 204 1023.6C205.3 1023 206.7 1022.4 208 1021.8C209.3 1021.1 210.7 1020.5 212 1019.9C213.3 1019.2 214.7 1018.6 216 1017.9C217.3 1017.2 218.7 1016.5 220 1015.8C221.3 1015.1 222.7 1014.4 224 1013.7C225.3 1012.9 226.7 1012.2 228 1011.4C229.3 1010.6 230.7 1009.8 232 1009C233.3 1008.1 234.7 1007.3 236 1006.4C237.3 1005.6 238.7 1004.7 240 1003.8C241.3 1002.8 242.7 1001.9 244 1000.9C245.3 1000 246.7 999 248 998C249.3 997 250.7 995.9 252 994.8C253.3 993.8 254.7 992.7 256 991.6C257.3 990.4 258.7 989.3 260 988.1C261.3 986.9 262.7 985.7 264 984.4C265.3 983.2 266.7 981.9 268 980.6C269.3 979.3 270.7 977.9 272 976.6C273.3 975.2 274.7 973.8 276 972.3C277.3 970.9 278.7 969.4 280 967.9C281.3 966.3 282.7 964.8 284 963.2C285.3 961.6 286.7 960 288 958.3C289.3 956.6 290.7 954.9 292 953.1C293.3 951.4 294.7 949.6 296 947.8C297.3 945.9 298.7 944 300 942.1C301.3 940.2 302.7 938.2 304 936.2C305.3 934.2 306.7 932.2 308 930.1C309.3 928 310.7 925.8 312 923.6C313.3 921.4 314.7 919.2 316 916.9C317.3 914.6 318.7 912.3 320 909.9C321.3 907.5 322.7 905.1 324 902.6C325.3 900.2 326.7 897.6 328 895.1C329.3 892.5 330.7 890 332 887.3C333.3 884.7 334.7 882 336 879.3C337.3 876.6 338.7 873.9 340 871.1C341.3 868.4 342.7 865.6 344 862.7C345.3 859.9 346.7 857 348 854.2C349.3 851.3 350.7 848.3 352 845.4C353.3 842.5 354.7 839.5 356 836.5C357.3 833.5 358.7 830.5 360 827.4C361.3 824.4 362.7 821.3 364 818.3C365.3 815.2 366.7 812.1 368 809C369.3 805.8 370.7 802.7 372 799.6C373.3 796.4 374.7 793.3 376 790.1C377.3 786.9 378.7 783.7 380 780.5C381.3 777.3 382.7 774.1 384 770.9C385.3 767.7 386.7 764.5 388 761.2C389.3 758 390.7 754.8 392 751.5C393.3 748.3 394.7 745.1 396 741.8C397.3 738.6 398.7 735.4 400 732.1C401.3 728.9 402.7 725.7 404 722.4C405.3 719.2 406.7 716 408 712.8C409.3 709.6 410.7 706.4 412 703.2C413.3 700 414.7 696.8 416 693.6C417.3 690.5 418.7 687.3 420 684.2C421.3 681 422.7 677.9 424 674.8C425.3 671.7 426.7 668.7 428 665.6C429.3 662.6 430.7 659.5 432 656.5C433.3 653.6 434.7 650.6 436 647.7C437.3 644.7 438.7 641.9 440 639C441.3 636.2 442.7 633.4 444 630.7C445.3 627.9 446.7 625.3 448 622.6C449.3 620 450.7 617.5 452 615C453.3 612.5 454.7 610 456 607.7C457.3 605.3 458.7 603.1 460 600.9C461.3 598.7 462.7 596.6 464 594.5C465.3 592.5 466.7 590.6 468 588.7C469.3 586.9 470.7 585.2 472 583.5C473.3 581.9 474.7 580.3 476 578.8C477.3 577.3 478.7 576 480 574.6C481.3 573.3 482.7 572.1 484 570.9C485.3 569.8 486.7 568.7 488 567.7C489.3 566.6 490.7 565.7 492 564.8C493.3 563.9 494.7 563.1 496 562.3C497.3 561.5 498.7 560.8 500 560.1C501.3 559.5 502.7 558.9 504 558.3C505.3 557.7 506.7 557.2 508 556.7C509.3 556.2 510.7 555.7 512 555.3C513.3 554.9 514.7 554.5 516 554.1C517.3 553.8 518.7 553.5 520 553.2C521.3 552.9 522.7 552.7 524 552.5C525.3 552.3 526.7 552.2 528 552.1C529.3 552 530.7 552 532 552C533.3 552 534.7 552 536 552.2C537.3 552.3 538.7 552.5 540 552.7C541.3 552.9 542.7 553.2 544 553.6C545.3 554 546.7 554.4 548 554.9C549.3 555.4 550.7 555.9 552 556.5C553.3 557.2 554.7 557.9 556 558.7C557.3 559.4 558.7 560.3 560 561.2C561.3 562.2 562.7 563.2 564 564.3C565.3 565.4 566.7 566.6 568 567.9C569.3 569.2 570.7 570.5 572 572C573.3 573.5 574.7 575.1 576 576.8C577.3 578.5 578.7 580.3 580 582.2C581.3 584.1 582.7 586.2 584 588.3C585.3 590.5 586.7 592.8 588 595.2C589.3 597.6 590.7 600.1 592 602.7C593.3 605.4 594.7 608.2 596 611.1C597.3 614 598.7 617.1 600 620.3C601.3 623.4 602.7 626.7 604 630C605.3 633.4 606.7 636.8 608 640.3C609.3 643.8 610.7 647.4 612 651C613.3 654.6 614.7 658.3 616 662C617.3 665.7 618.7 669.4 620 673.1C621.3 676.8 622.7 680.5 624 684.2C625.3 687.9 626.7 691.6 628 695.2C629.3 698.9 630.7 702.5 632 706C633.3 709.6 634.7 713.1 636 716.5C637.3 720 638.7 723.4 640 726.7C641.3 730 642.7 733.3 644 736.6C645.3 739.8 646.7 743 648 746.1C649.3 749.2 650.7 752.2 652 755.2C653.3 758.2 654.7 761.1 656 764C657.3 766.9 658.7 769.7 660 772.4C661.3 775.1 662.7 777.8 664 780.4C665.3 783 666.7 785.5 668 787.9C669.3 790.4 670.7 792.7 672 795.1C673.3 797.4 674.7 799.7 676 801.9C677.3 804.2 678.7 806.4 680 808.6C681.3 810.8 682.7 813 684 815.2C685.3 817.4 686.7 819.6 688 821.8C689.3 824.1 690.7 826.3 692 828.6C693.3 830.9 694.7 833.2 696 835.6C697.3 837.9 698.7 840.4 700 842.9C701.3 845.4 702.7 848 704 850.6C705.3 853.3 706.7 856.1 708 859C709.3 861.8 710.7 864.8 712 867.8C713.3 870.9 714.7 874 716 877.1C717.3 880.3 718.7 883.5 720 886.8C721.3 890 722.7 893.3 724 896.6C725.3 899.9 726.7 903.2 728 906.5C729.3 909.8 730.7 913.1 732 916.4C733.3 919.6 734.7 922.9 736 926.1C737.3 929.3 738.7 932.5 740 935.6C741.3 938.7 742.7 941.8 744 944.7C745.3 947.7 746.7 950.7 748 953.5C749.3 956.4 750.7 959.2 752 961.9C753.3 964.6 754.7 967.3 756 969.8C757.3 972.3 758.7 974.8 760 977.2C761.3 979.5 762.7 981.7 764 983.9C765.3 986 766.7 988 768 989.9C769.3 991.8 770.7 993.6 772 995.3C773.3 996.9 774.7 998.5 776 999.8C777.3 1001.2 778.7 1002.4 780 1003.5C781.3 1004.7 782.7 1005.6 784 1006.5C785.3 1007.4 786.7 1008.1 788 1008.8C789.3 1009.5 790.7 1010.1 792 1010.7C793.3 1011.2 794.7 1011.7 796 1012.1C797.3 1012.5 798.7 1012.9 800 1013.3C801.3 1013.7 802.7 1014 804 1014.4C805.3 1014.7 806.7 1015.1 808 1015.4C809.3 1015.8 810.7 1016.1 812 1016.5C813.3 1016.8 814.7 1017.1 816 1017.5C817.3 1017.8 818.7 1018.2 820 1018.5C821.3 1018.8 822.7 1019.2 824 1019.5C825.3 1019.9 826.7 1020.2 828 1020.6C829.3 1020.9 830.7 1021.3 832 1021.6C833.3 1022 834.7 1022.3 836 1022.7C837.3 1023.1 838.7 1023.4 840 1023.8C841.3 1024.2 842.7 1024.5 844 1024.9C845.3 1025.3 846.7 1025.6 848 1026C849.3 1026.4 850.7 1026.7 852 1027.1C853.3 1027.5 854.7 1027.9 856 1028.2C857.3 1028.6 858.7 1029 860 1029.3C861.3 1029.7 862.7 1030.1 864 1030.4C865.3 1030.8 866.7 1031.1 868 1031.5C869.3 1031.8 870.7 1032.2 872 1032.5C873.3 1032.9 874.7 1033.2 876 1033.5C877.3 1033.9 878.7 1034.2 880 1034.5C881.3 1034.8 882.7 1035.2 884 1035.5C885.3 1035.8 886.7 1036.1 888 1036.4C889.3 1036.7 890.7 1037 892 1037.2C893.3 1037.5 894.7 1037.8 896 1038C897.3 1038.3 898.7 1038.6 900 1038.8C901.3 1039 902.7 1039.3 904 1039.5C905.3 1039.7 906.7 1039.9 908 1040.1C909.3 1040.3 910.7 1040.5 912 1040.7C913.3 1040.8 914.7 1041 916 1041.2C917.3 1041.3 918.7 1041.4 920 1041.6C921.3 1041.7 922.7 1041.8 924 1041.9C925.3 1042 926.7 1042 928 1042.1C929.3 1042.2 930.7 1042.2 932 1042.2C933.3 1042.3 934.7 1042.3 936 1042.3C937.3 1042.3 939.3 1042.2 940 1042.2"/>
<path stroke="#00f" d="M196 1032.4C196.7 1032.2 198.7 1031.6 200 1031.2C201.3 1030.8 202.7 1030.4 204 1030C205.3 1029.5 206.7 1029.1 208 1028.7C209.3 1028.2 210.7 1027.8 212 1027.3C213.3 1026.8 214.7 1026.3 216 1025.8C217.3 1025.3 218.7 1024.8 220 1024.3C221.3 1023.8 222.7 1023.2 224 1022.7C225.3 1022.1 226.7 1021.5 228 1020.9C229.3 1020.4 230.7 1019.7 232 1019.1C233.3 1018.4 234.7 1017.7 236 1017C237.3 1016.3 238.7 1015.6 240 1014.9C241.3 1014.1 242.7 1013.4 244 1012.6C245.3 1011.8 246.7 1011 248 1010.2C249.3 1009.4 250.7 1008.5 252 1007.6C253.3 1006.8 254.7 1005.9 256 1005C257.3 1004.1 258.7 1003.1 260 1002.1C261.3 1001.2 262.7 1000.2 264 999.2C265.3 998.2 266.7 997.2 268 996.2C269.3 995.2 270.7 994.1 272 993C273.3 992 274.7 990.9 276 989.8C277.3 988.6 278.7 987.5 280 986.3C281.3 985.1 282.7 983.9 284 982.6C285.3 981.3 286.7 980 288 978.6C289.3 977.3 290.7 975.9 292 974.5C293.3 973.1 294.7 971.6 296 970.1C297.3 968.7 298.7 967.1 300 965.6C301.3 964.1 302.7 962.5 304 960.9C305.3 959.2 306.7 957.5 308 955.7C309.3 953.9 310.7 952.1 312 950.3C313.3 948.4 314.7 946.5 316 944.6C317.3 942.7 318.7 940.7 320 938.7C321.3 936.7 322.7 934.7 324 932.6C325.3 930.5 326.7 928.4 328 926.3C329.3 924.2 330.7 922 332 919.8C333.3 917.6 334.7 915.3 336 913.1C337.3 910.8 338.7 908.5 340 906.2C341.3 903.8 342.7 901.5 344 899.1C345.3 896.7 346.7 894.3 348 891.9C349.3 889.5 350.7 887 352 884.5C353.3 882 354.7 879.5 356 876.9C357.3 874.4 358.7 871.7 360 869.2C361.3 866.6 362.7 864 364 861.4C365.3 858.8 366.7 856.2 368 853.5C369.3 850.9 370.7 848.2 372 845.5C373.3 842.7 374.7 840 376 837.2C377.3 834.5 378.7 831.7 380 828.9C381.3 826.1 382.7 823.2 384 820.4C385.3 817.5 386.7 814.6 388 811.7C389.3 808.8 390.7 805.9 392 803C393.3 800 394.7 797.1 396 794.1C397.3 791.1 398.7 788.1 400 785.1C401.3 782.1 402.7 779.1 404 776.1C405.3 773.1 406.7 770.1 408 767.1C409.3 764.1 410.7 761 412 758C413.3 755 414.7 752 416 749C417.3 746 418.7 743 420 740.1C421.3 737.1 422.7 734.2 424 731.2C425.3 728.3 426.7 725.4 428 722.5C429.3 719.6 430.7 716.7 432 713.9C433.3 711.1 434.7 708.3 436 705.5C437.3 702.7 438.7 700 440 697.3C441.3 694.6 442.7 691.9 444 689.3C445.3 686.7 446.7 684.1 448 681.6C449.3 679.1 450.7 676.6 452 674.2C453.3 671.8 454.7 669.4 456 667.1C457.3 664.8 458.7 662.6 460 660.4C461.3 658.2 462.7 656.1 464 654.1C465.3 652 466.7 650 468 648.1C469.3 646.2 470.7 644.4 472 642.6C473.3 640.9 474.7 639.2 476 637.6C477.3 636 478.7 634.4 480 633C481.3 631.5 482.7 630.1 484 628.8C485.3 627.4 486.7 626.2 488 625C489.3 623.8 490.7 622.7 492 621.7C493.3 620.6 494.7 619.7 496 618.8C497.3 617.9 498.7 617 500 616.3C501.3 615.5 502.7 614.8 504 614.2C505.3 613.5 506.7 613 508 612.5C509.3 612 510.7 611.6 512 611.2C513.3 610.9 514.7 610.6 516 610.4C517.3 610.1 518.7 610 520 609.9C521.3 609.8 522.7 609.8 524 609.9C525.3 610 526.7 610.1 528 610.3C529.3 610.5 530.7 610.8 532 611.2C533.3 611.6 534.7 612 536 612.5C537.3 613.1 538.7 613.7 540 614.4C541.3 615.1 542.7 615.8 544 616.7C545.3 617.5 546.7 618.5 548 619.5C549.3 620.5 550.7 621.6 552 622.8C553.3 624 554.7 625.3 556 626.6C557.3 628 558.7 629.4 560 631C561.3 632.5 562.7 634.1 564 635.8C565.3 637.5 566.7 639.3 568 641.2C569.3 643.1 570.7 645 572 647.1C573.3 649.1 574.7 651.2 576 653.4C577.3 655.6 578.7 657.9 580 660.3C581.3 662.7 582.7 665.1 584 667.7C585.3 670.2 586.7 672.9 588 675.6C589.3 678.3 590.7 681.1 592 683.9C593.3 686.7 594.7 689.7 596 692.6C597.3 695.6 598.7 698.6 600 701.6C601.3 704.6 602.7 707.7 604 710.8C605.3 713.9 606.7 717 608 720.1C609.3 723.2 610.7 726.4 612 729.5C613.3 732.6 614.7 735.7 616 738.8C617.3 741.9 618.7 745 620 748.1C621.3 751.1 622.7 754.1 624 757.1C625.3 760 626.7 763 628 765.8C629.3 768.7 630.7 771.5 632 774.3C633.3 777.1 634.7 779.8 636 782.5C637.3 785.2 638.7 787.9 640 790.5C641.3 793.1 642.7 795.7 644 798.2C645.3 800.7 646.7 803.2 648 805.6C649.3 808.1 650.7 810.5 652 812.9C653.3 815.2 654.7 817.6 656 819.9C657.3 822.2 658.7 824.4 660 826.7C661.3 828.9 662.7 831.1 664 833.3C665.3 835.4 666.7 837.5 668 839.6C669.3 841.7 670.7 843.8 672 845.8C673.3 847.9 674.7 849.9 676 851.9C677.3 853.8 678.7 855.8 680 857.7C681.3 859.6 682.7 861.5 684 863.4C685.3 865.2 686.7 867.1 688 868.9C689.3 870.7 690.7 872.5 692 874.3C693.3 876.1 694.7 877.8 696 879.5C697.3 881.3 698.7 883 700 884.6C701.3 886.3 702.7 888 704 889.6C705.3 891.3 706.7 892.9 708 894.5C709.3 896.2 710.7 897.8 712 899.5C713.3 901.1 714.7 902.8 716 904.6C717.3 906.3 718.7 908.1 720 910C721.3 911.9 722.7 913.8 724 915.8C725.3 917.9 726.7 920.1 728 922.3C729.3 924.6 730.7 926.9 732 929.4C733.3 931.8 734.7 934.3 736 936.9C737.3 939.4 738.7 942 740 944.7C741.3 947.3 742.7 950 744 952.7C745.3 955.3 746.7 958.1 748 960.7C749.3 963.4 750.7 966.1 752 968.7C753.3 971.3 754.7 973.8 756 976.3C757.3 978.8 758.7 981.2 760 983.6C761.3 985.9 762.7 988.1 764 990.2C765.3 992.3 766.7 994.3 768 996.1C769.3 997.9 770.7 999.6 772 1001.2C773.3 1002.7 774.7 1004.1 776 1005.4C777.3 1006.6 778.7 1007.8 780 1008.9C781.3 1009.9 782.7 1010.8 784 1011.7C785.3 1012.6 786.7 1013.3 788 1014C789.3 1014.7 790.7 1015.3 792 1015.9C793.3 1016.4 794.7 1016.9 796 1017.3C797.3 1017.8 798.7 1018.1 800 1018.5C801.3 1018.8 802.7 1019.1 804 1019.4C805.3 1019.7 806.7 1020 808 1020.2C809.3 1020.5 810.7 1020.7 812 1020.9C813.3 1021.2 814.7 1021.4 816 1021.7C817.3 1021.9 818.7 1022.2 820 1022.5C821.3 1022.7 822.7 1023.1 824 1023.4C825.3 1023.7 826.7 1024.1 828 1024.4C829.3 1024.8 830.7 1025.2 832 1025.5C833.3 1025.9 834.7 1026.3 836 1026.7C837.3 1027.1 838.7 1027.5 840 1027.9C841.3 1028.3 842.7 1028.7 844 1029.1C845.3 1029.5 846.7 1029.9 848 1030.3C849.3 1030.7 850.7 1031 852 1031.4C853.3 1031.7 854.7 1032.1 856 1032.4C857.3 1032.7 858.7 1033.1 860 1033.4C861.3 1033.7 862.7 1034 864 1034.3C865.3 1034.6 866.7 1034.9 868 1035.1C869.3 1035.4 870.7 1035.7 872 1035.9C873.3 1036.2 874.7 1036.4 876 1036.7C877.3 1036.9 878.7 1037.1 880 1037.4C881.3 1037.6 882.7 1037.8 884 1038C885.3 1038.2 886.7 1038.4 888 1038.6C889.3 1038.8 890.7 1039 892 1039.2C893.3 1039.4 894.7 1039.5 896 1039.7C897.3 1039.9 898.7 1040 900 1040.2C901.3 1040.3 902.7 1040.5 904 1040.6C905.3 1040.8 906.7 1040.9 908 1041C909.3 1041.2 910.7 1041.3 912 1041.4C913.3 1041.5 914.7 1041.7 916 1041.8C917.3 1041.9 918.7 1042 920 1042.1C921.3 1042.2 922.7 1042.3 924 1042.4C925.3 1042.5 926.7 1042.6 928 1042.7C929.3 1042.8 930.7 1042.9 932 1043C933.3 1043.1 934.7 1043.2 936 1043.3C937.3 1043.3 939.3 1043.5 940 1043.5"/>
<path stroke="#f00" d="M699.4 1050.1C699.7 1049.8 700.7 1049 701.4 1048.5C702.1 1048 702.7 1047.6 703.4 1047.1C704.1 1046.6 704.7 1046.2 705.4 1045.7C706.1 1045.3 706.7 1044.9 707.4 1044.4C708.1 1044 708.7 1043.6 709.4 1043.2C710.1 1042.9 710.7 1042.5 711.4 1042.1C712.1 1041.8 712.7 1041.4 713.4 1041.1C714.1 1040.7 714.7 1040.4 715.4 1040.1C716.1 1039.8 716.7 1039.5 717.4 1039.2C718.1 1038.9 718.7 1038.6 719.4 1038.3C720.1 1038.1 720.7 1037.8 721.4 1037.5C722.1 1037.3 722.7 1037 723.4 1036.8C724.1 1036.6 724.7 1036.4 725.4 1036.1C726.1 1035.9 726.7 1035.7 727.4 1035.5C728.1 1035.3 728.7 1035.1 729.4 1035C730.1 1034.8 730.7 1034.6 731.4 1034.4C732.1 1034.3 732.7 1034.1 733.4 1034C734.1 1033.8 734.7 1033.7 735.4 1033.5C736.1 1033.4 736.7 1033.3 737.4 1033.1C738.1 1033 738.7 1032.9 739.4 1032.8C740.1 1032.7 740.7 1032.6 741.4 1032.5C742.1 1032.4 742.7 1032.3 743.4 1032.2C744.1 1032.1 744.7 1032 745.4 1031.9C746.1 1031.9 746.7 1031.8 747.4 1031.7C748.1 1031.6 748.7 1031.6 749.4 1031.5C750.1 1031.4 750.7 1031.4 751.4 1031.3C752.1 1031.2 752.7 1031.2 753.4 1031.1C754.1 1031 754.7 1030.9 755.4 1030.9C756.1 1030.8 756.7 1030.7 757.4 1030.6C758.1 1030.6 758.7 1030.5 759.4 1030.4C760.1 1030.3 760.7 1030.2 761.4 1030.1C762.1 1030 762.7 1029.9 763.4 1029.8C764.1 1029.7 764.7 1029.6 765.4 1029.5C766.1 1029.4 766.7 1029.2 767.4 1029.1C768.1 1029 768.7 1028.8 769.4 1028.6C770.1 1028.5 770.7 1028.3 771.4 1028.1C772.1 1027.9 772.7 1027.8 773.4 1027.5C774.1 1027.3 774.7 1027.1 775.4 1026.8C776.1 1026.6 776.7 1026.3 777.4 1026C778.1 1025.7 778.7 1025.3 779.4 1025C780.1 1024.6 780.7 1024.2 781.4 1023.8C782.1 1023.4 782.7 1022.9 783.4 1022.5C784.1 1022 784.7 1021.5 785.4 1021C786.1 1020.5 786.7 1019.9 787.4 1019.4C788.1 1018.9 788.7 1018.3 789.4 1017.8C790.1 1017.3 790.7 1016.8 791.4 1016.3C792.1 1015.8 792.7 1015.3 793.4 1014.8C794.1 1014.4 794.7 1014 795.4 1013.6C796.1 1013.2 796.7 1012.8 797.4 1012.5C798.1 1012.2 798.7 1011.9 799.4 1011.7C800.1 1011.5 800.7 1011.3 801.4 1011.2C802.1 1011.1 802.7 1011 803.4 1011C804.1 1011 804.7 1011.1 805.4 1011.2C806.1 1011.3 806.7 1011.4 807.4 1011.6C808.1 1011.7 808.7 1011.9 809.4 1012.1C810.1 1012.3 810.7 1012.6 811.4 1012.8C812.1 1013 812.7 1013.2 813.4 1013.5C814.1 1013.7 814.7 1014 815.4 1014.2C816.1 1014.5 816.7 1014.8 817.4 1015C818.1 1015.3 818.7 1015.6 819.4 1015.9C820.1 1016.1 820.7 1016.4 821.4 1016.7C822.1 1017 822.7 1017.3 823.4 1017.6C824.1 1017.9 824.7 1018.2 825.4 1018.5C826.1 1018.8 826.7 1019.1 827.4 1019.4C828.1 1019.7 828.7 1020 829.4 1020.3C830.1 1020.6 830.7 1020.9 831.4 1021.2C832.1 1021.5 832.7 1021.8 833.4 1022.1C834.1 1022.4 834.7 1022.7 835.4 1023C836.1 1023.2 836.7 1023.5 837.4 1023.8C838.1 1024.1 838.7 1024.3 839.4 1024.6C840.1 1024.9 840.7 1025.1 841.4 1025.4C842.1 1025.6 842.7 1025.9 843.4 1026.1C844.1 1026.4 844.7 1026.6 845.4 1026.9C846.1 1027.1 846.7 1027.3 847.4 1027.6C848.1 1027.8 848.7 1028 849.4 1028.2C850.1 1028.5 850.7 1028.7 851.4 1028.9C852.1 1029.1 852.7 1029.3 853.4 1029.5C854.1 1029.7 854.7 1029.9 855.4 1030.1C856.1 1030.3 856.7 1030.5 857.4 1030.7C858.1 1030.9 858.7 1031.1 859.4 1031.3C860.1 1031.4 860.7 1031.6 861.4 1031.8C862.1 1032 862.7 1032.1 863.4 1032.3C864.1 1032.5 864.7 1032.6 865.4 1032.8C866.1 1033 866.7 1033.1 867.4 1033.3C868.1 1033.4 868.7 1033.6 869.4 1033.7C870.1 1033.9 870.7 1034 871.4 1034.2C872.1 1034.3 872.7 1034.4 873.4 1034.6C874.1 1034.7 874.7 1034.9 875.4 1035C876.1 1035.1 876.7 1035.2 877.4 1035.4C878.1 1035.5 878.7 1035.6 879.4 1035.7C880.1 1035.9 880.7 1036 881.4 1036.1C882.1 1036.2 882.7 1036.3 883.4 1036.4C884.1 1036.5 884.7 1036.7 885.4 1036.8C886.1 1036.9 886.7 1037 887.4 1037.1C888.1 1037.2 888.7 1037.3 889.4 1037.4C890.1 1037.5 890.7 1037.6 891.4 1037.7C892.1 1037.8 892.7 1037.9 893.4 1038C894.1 1038 894.7 1038.1 895.4 1038.2C896.1 1038.3 896.7 1038.4 897.4 1038.5C898.1 1038.6 898.7 1038.7 899.4 1038.7C900.1 1038.8 900.7 1038.9 901.4 1039C902.1 1039.1 902.7 1039.2 903.4 1039.2C904.1 1039.3 904.7 1039.4 905.4 1039.5C906.1 1039.5 906.7 1039.6 907.4 1039.7C908.1 1039.8 908.7 1039.8 909.4 1039.9C910.1 1040 910.7 1040.1 911.4 1040.1C912.1 1040.2 912.7 1040.3 913.4 1040.4C914.1 1040.4 914.7 1040.5 915.4 1040.6C916.1 1040.6 916.7 1040.7 917.4 1040.8C918.1 1040.9 918.7 1040.9 919.4 1041C920.1 1041.1 920.7 1041.1 921.4 1041.2C922.1 1041.3 922.7 1041.3 923.4 1041.4C924.1 1041.5 924.7 1041.6 925.4 1041.6C926.1 1041.7 926.7 1041.8 927.4 1041.8C928.1 1041.9 928.7 1042 929.4 1042C930.1 1042.1 930.7 1042.2 931.4 1042.3C932.1 1042.3 932.7 1042.4 933.4 1042.5C934.1 1042.6 934.7 1042.6 935.4 1042.7C936.1 1042.8 936.7 1042.9 937.4 1042.9C938.1 1043 939 1043.1 939.4 1043.2C939.8 1043.2 939.9 1043.2 940 1043.3" stroke-linecap="round"/>
<path stroke="#808000" d="M729 1025.7C729.5 1026.1 731 1027.5 732 1028.3C733 1029.1 734 1030 735 1030.8C736 1031.6 737 1032.3 738 1033.1C739 1033.9 740 1034.6 741 1035.3C742 1036 743 1036.7 744 1037.4C745 1038.1 746 1038.8 747 1039.4C748 1040.1 749 1040.7 750 1041.3C751 1041.9 752 1042.5 753 1043.1C754 1043.6 755 1044.2 756 1044.7C757 1045.2 758 1045.8 759 1046.3C760 1046.7 761 1047.2 762 1047.7C763 1048.1 764 1048.6 765 1049C766 1049.4 767.5 1050 768 1050.3C768.5 1050.5 768.2 1050.3 768.3 1050.4" stroke-linecap="round"/>
<path stroke="#808000" d="M768.3 1050.1C768.6 1050.1 769.6 1050.2 770.3 1050.2C771 1050.1 771.6 1050 772.3 1049.8C773 1049.7 773.6 1049.5 774.3 1049.2C775 1049 775.6 1048.6 776.3 1048.3C777 1047.9 777.6 1047.5 778.3 1047.1C779 1046.7 779.6 1046.2 780.3 1045.7C781 1045.2 781.6 1044.6 782.3 1044.1C783 1043.5 783.6 1042.9 784.3 1042.3C785 1041.6 785.6 1041 786.3 1040.3C787 1039.6 787.6 1039 788.3 1038.3C789 1037.6 789.6 1036.8 790.3 1036.1C791 1035.4 791.6 1034.6 792.3 1033.9C793 1033.2 793.6 1032.4 794.3 1031.7C795 1030.9 795.6 1030.2 796.3 1029.5C797 1028.7 797.6 1028 798.3 1027.3C799 1026.6 799.6 1025.9 800.3 1025.2C801 1024.5 801.6 1023.8 802.3 1023.1C803 1022.5 803.6 1021.8 804.3 1021.2C805 1020.6 805.6 1020 806.3 1019.5C807 1018.9 807.6 1018.4 808.3 1017.9C809 1017.4 809.6 1016.9 810.3 1016.4C811 1016 811.6 1015.6 812.3 1015.2C813 1014.8 813.6 1014.4 814.3 1014.1C815 1013.8 815.6 1013.5 816.3 1013.3C817 1013.1 817.6 1012.8 818.3 1012.7C819 1012.5 819.6 1012.4 820.3 1012.3C821 1012.3 821.6 1012.2 822.3 1012.2C823 1012.2 823.6 1012.3 824.3 1012.4C825 1012.5 825.6 1012.7 826.3 1012.9C827 1013 827.6 1013.3 828.3 1013.5C829 1013.8 829.6 1014.1 830.3 1014.4C831 1014.7 831.6 1015 832.3 1015.3C833 1015.7 833.6 1016 834.3 1016.4C835 1016.7 835.6 1017.1 836.3 1017.4C837 1017.8 837.6 1018.1 838.3 1018.4C839 1018.7 839.6 1019.1 840.3 1019.4C841 1019.7 841.6 1020 842.3 1020.3C843 1020.6 843.6 1020.8 844.3 1021.1C845 1021.4 845.6 1021.7 846.3 1021.9C847 1022.2 847.6 1022.5 848.3 1022.7C849 1023 849.6 1023.2 850.3 1023.5C851 1023.7 851.6 1024 852.3 1024.2C853 1024.4 853.6 1024.7 854.3 1024.9C855 1025.1 855.6 1025.4 856.3 1025.6C857 1025.8 857.6 1026 858.3 1026.2C859 1026.5 859.6 1026.7 860.3 1026.9C861 1027.1 861.6 1027.3 862.3 1027.5C863 1027.7 863.6 1027.9 864.3 1028.1C865 1028.3 865.6 1028.5 866.3 1028.7C867 1028.8 867.6 1029 868.3 1029.2C869 1029.4 869.6 1029.6 870.3 1029.7C871 1029.9 871.6 1030.1 872.3 1030.3C873 1030.4 873.6 1030.6 874.3 1030.8C875 1030.9 875.6 1031.1 876.3 1031.2C877 1031.4 877.6 1031.6 878.3 1031.7C879 1031.9 879.6 1032 880.3 1032.2C881 1032.3 881.6 1032.5 882.3 1032.6C883 1032.7 883.6 1032.9 884.3 1033C885 1033.2 885.6 1033.3 886.3 1033.4C887 1033.6 887.6 1033.7 888.3 1033.8C889 1034 889.6 1034.1 890.3 1034.2C891 1034.3 891.6 1034.5 892.3 1034.6C893 1034.7 893.6 1034.8 894.3 1034.9C895 1035 895.6 1035.2 896.3 1035.3C897 1035.4 897.6 1035.5 898.3 1035.6C899 1035.7 899.6 1035.8 900.3 1035.9C901 1036 901.6 1036.1 902.3 1036.2C903 1036.3 903.6 1036.4 904.3 1036.5C905 1036.6 905.6 1036.7 906.3 1036.8C907 1036.9 907.6 1037 908.3 1037.1C909 1037.2 909.6 1037.3 910.3 1037.4C911 1037.5 911.6 1037.6 912.3 1037.7C913 1037.8 913.6 1037.9 914.3 1037.9C915 1038 915.6 1038.1 916.3 1038.2C917 1038.3 917.6 1038.4 918.3 1038.5C919 1038.5 919.6 1038.6 920.3 1038.7C921 1038.8 921.6 1038.9 922.3 1038.9C923 1039 923.6 1039.1 924.3 1039.2C925 1039.3 925.6 1039.3 926.3 1039.4C927 1039.5 927.6 1039.6 928.3 1039.7C929 1039.7 929.6 1039.8 930.3 1039.9C931 1040 931.6 1040 932.3 1040.1C933 1040.2 933.6 1040.3 934.3 1040.3C935 1040.4 935.6 1040.5 936.3 1040.6C937 1040.6 937.7 1040.7 938.3 1040.8C938.9 1040.9 939.7 1041 940 1041" stroke-linecap="round"/>
<path d="M198.8 1047h0M207.3 1046.9h0M216.2 1046.6h0M225.8 1046.2h0M234.6 1045.7h0M252.2 1044.3h0M261.1 1043.4h0M278.2 1041.1h0M287.2 1039.7h0M303.3 1036.5h0M312.3 1034.5h0M328.2 1030.2h0M337.1 1027.5h0M351.8 1022.3h0M360.5 1019h0M374.3 1013h0M382 1009.3h0M395.7 1002.2h0M404 997.5h0M416.5 989.9h0M424 984.9h0M436 976.5h0M442.7 971.4h0M454.2 962.3h0M461.4 956.4h0M471.2 948.2h0M478.2 942.5h0M487.5 935.1h0M494.7 929.6h0M502.7 923.9h0M510.2 919.1h0M517.4 914.9h0M524.9 911.2h0M530.7 908.8h0M543.5 905.4h0M556.1 904.7h0M568.1 906.7h0M579.3 911h0M590.2 917.8h0M600.6 926.5h0M606.8 932.9h0M610.2 936.8h0M615.6 943.4h0M619.3 948.3h0M624.1 954.9h0M627.6 959.9h0M632.7 967.5h0M636.1 972.7h0M640.9 980.2h0M643.6 984.4h0M649.5 993.7h0M656.9 1005h0M662.6 1013.4h0M668.1 1021h0M673.8 1028.3h0M680.2 1035.5h0M686.6 1041.5h0M693 1046h0M699.4 1048.9h0" stroke="#f00" stroke-width="5.0" stroke-linecap="round"/>
<path d="M203.4 1046.9h0M221.3 1046.2h0M230.4 1045.7h0M248 1044.5h0M256.8 1043.7h0M273.9 1041.8h0M283 1040.5h0M299.5 1037.7h0M308.4 1035.8h0M324.3 1031.9h0M332.8 1029.5h0M347.6 1024.7h0M356.2 1021.5h0M370.3 1015.6h0M378.2 1011.9h0M391.6 1005h0M400 1000.2h0M412 992.8h0M418.7 988.3h0M430.7 979.6h0M437.4 974.4h0M448 965.6h0M454.7 959.7h0M464 951h0M470.7 944.5h0M479.2 935.8h0M485.4 929.3h0M493.4 920.9h0M499.5 914.4h0M506.2 907.4h0M512.6 900.8h0M518.7 894.6h0M524.9 888.6h0M529.9 884h0M535.9 878.6h0M539.6 875.5h0M549.5 867.9h0M558.6 862h0M567.6 857.3h0M576.3 854h0M584.7 852h0M592.6 851.4h0M601.1 852h0M609.1 853.9h0M617.3 857.2h0M625.4 861.9h0M633.5 868.1h0M641.4 875.6h0M649.2 884.5h0M656.5 894.3h0M663.6 905.3h0M668.1 913h0M670.9 918.1h0M674.3 924.6h0M676.3 928.7h0M680.6 937.6h0M682.8 942.3h0M688.2 954.2h0M693 964.9h0M697.8 975.4h0M702.6 985.6h0M706.8 994h0M711.1 1002.1h0M715 1008.7h0M718.4 1013.9h0M721.9 1018.5h0M725.3 1022.3h0M726.5 1023.4h0" stroke="#808000" stroke-width="5.0" stroke-linecap="round"/>
</g>
<g stroke-width="4.7" stroke-linecap="round" fill="none">
<line x1="622.3" y1="314.7" x2="709.8" y2="314.7" stroke="#f0f"/>
<line x1="622.3" y1="387.6" x2="709.8" y2="387.6" stroke="#00f"/>
<line x1="636.3" y1="576.7" x2="724.3" y2="576.7" stroke="#000"/>
<line x1="636.3" y1="645" x2="724.3" y2="645" stroke="#f00"/>
<line x1="636.3" y1="708.4" x2="724.3" y2="708.4" stroke="#808000"/>
</g>
<text transform="translate(180.1 244.2) scale(1 1.035)" font-size="54.6" text-anchor="end">100</text>
<text transform="translate(180.1 493.6) scale(1 1.035)" font-size="54.6" text-anchor="end">0</text>
<text transform="translate(180.1 649.5) scale(1 1.035)" font-size="54.6" text-anchor="end">10</text>
<text transform="translate(180.1 856.1) scale(1 1.035)" font-size="54.6" text-anchor="end">5</text>
<text transform="translate(180.1 1062.7) scale(1 1.035)" font-size="54.6" text-anchor="end">0</text>
<text transform="translate(165.1 1118.9) scale(1 1.02)" font-size="58.5">10</text>
<text transform="translate(222.9 1090.7) scale(1 1.03)" font-size="35.5">10</text>
<text transform="translate(415.4 1118.9) scale(1 1.02)" font-size="58.5">10</text>
<text transform="translate(473.2 1090.7) scale(1 1.03)" font-size="35.5">11</text>
<text transform="translate(665.6 1118.9) scale(1 1.02)" font-size="58.5">10</text>
<text transform="translate(723.4 1090.7) scale(1 1.03)" font-size="35.5">12</text>
<text transform="translate(915.9 1118.9) scale(1 1.02)" font-size="58.5">10</text>
<text transform="translate(973.6 1090.7) scale(1 1.03)" font-size="35.5">13</text>
<text x="284.8" y="19.9" font-size="74.2" text-anchor="middle">(a)</text>
<text x="284.8" y="574" font-size="74.2" text-anchor="middle">(b)</text>
<g transform="translate(62.8 372) rotate(-90)"><text transform="translate(0.3 0) scale(1.13 1)" font-size="59.5" class="i">μ</text><text x="32.6" y="15.7" font-size="47" class="i">xx</text><text x="89.4" y="0" font-size="59.5">(cm</text><text x="181.6" y="-23.1" font-size="40">2</text><text x="201.8" y="0" font-size="59.5">/Vs)</text></g>
<g transform="translate(64.2 926.4) rotate(-90)"><text transform="translate(0.3 0) scale(1.13 1)" font-size="59.5" class="i">μ</text><text x="32.6" y="15.7" font-size="47" class="i">xy</text><text x="89.4" y="0" font-size="59.5">(cm</text><text x="181.6" y="-23.1" font-size="40">2</text><text x="201.8" y="0" font-size="59.5">/Vs)</text></g>
<text x="485.6" y="1187.1" font-size="66.5" class="i">n</text>
<text x="519.6" y="1207.8" font-size="40">e</text>
<text x="553.7" y="1187" font-size="66.5">(cm</text>
<text x="656.8" y="1153.3" font-size="35.5">−2</text>
<text x="697.6" y="1187" font-size="66.5">)</text>
<text transform="translate(746.6 243.4) scale(1 1.03)" font-size="46.5" class="i">B</text>
<text x="776.7" y="260.5" font-size="33" class="i">C</text>
<text transform="translate(796.4 243.4) scale(1 1.03)" font-size="50">=3 meV</text>
<text transform="translate(721.4 328.4) scale(1.13 1)" font-size="48.3">λ</text>
<text x="749.4" y="341.8" font-size="25" class="i">R</text>
<text transform="translate(763.9 328) scale(1.1 1)" font-size="50">=</text>
<text transform="translate(792.4 328) scale(1 1.03)" font-size="50">7.5 meV</text>
<text transform="translate(733.3 400) scale(1 1.03)" font-size="50">18.75 meV</text>
<text transform="translate(748.3 590.6) scale(1 1.03)" font-size="51">33.8 meV</text>
<text transform="translate(745.8 658.6) scale(1 1.03)" font-size="51">40.75 meV</text>
<text transform="translate(746.4 722.5) scale(1 1.03)" font-size="51">45.75 meV</text>
</svg></body></html>
